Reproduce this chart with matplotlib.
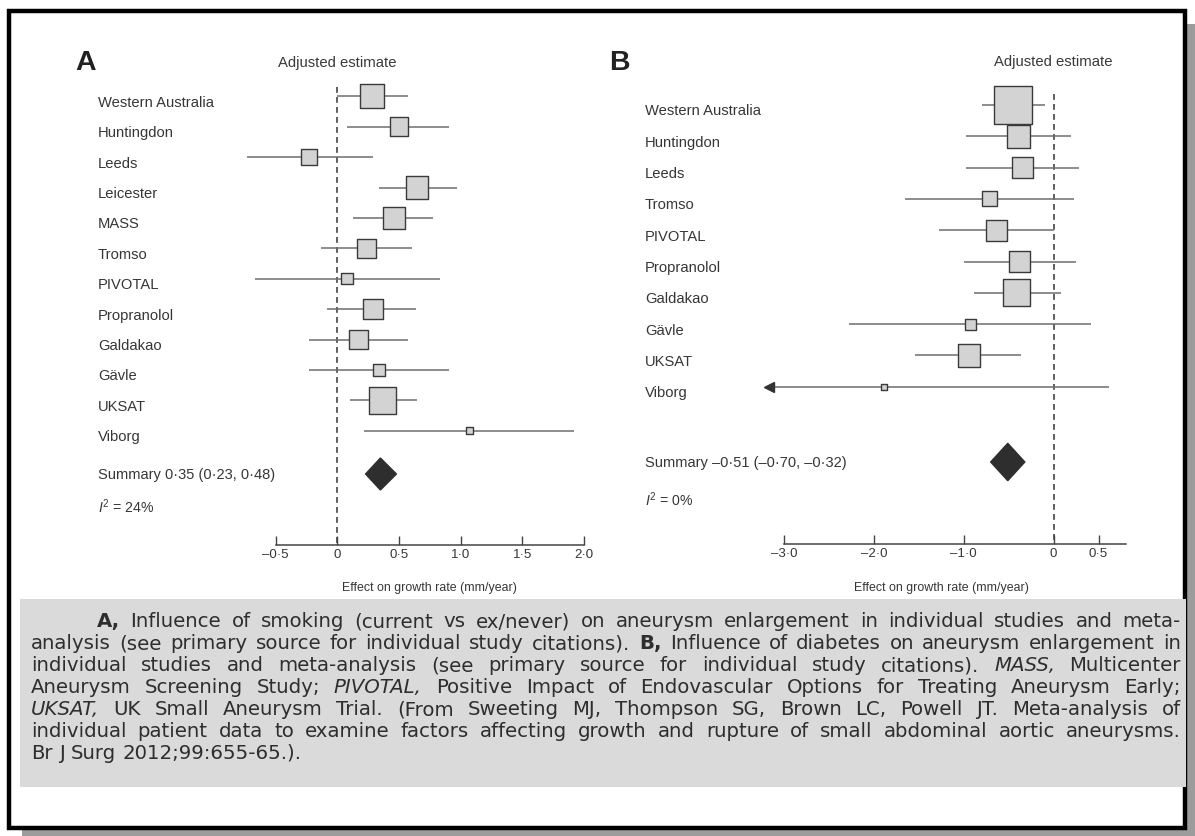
import numpy as np
import matplotlib
matplotlib.use("Agg")
import matplotlib.pyplot as plt
from matplotlib.transforms import Affine2D, blended_transform_factory
from matplotlib.patches import Polygon, Rectangle

W, H = 1195, 837

# ---- data ----
studies_a = ["Western Australia", "Huntingdon", "Leeds", "Leicester", "MASS", "Tromso",
             "PIVOTAL", "Propranolol", "Galdakao", "Gävle", "UKSAT", "Viborg"]
est_a = [0.28, 0.50, -0.23, 0.65, 0.46, 0.24, 0.08, 0.29, 0.17, 0.34, 0.37, 1.07]
lo_a = [0.00, 0.08, -0.73, 0.34, 0.13, -0.13, -0.67, -0.08, -0.23, -0.23, 0.10, 0.22]
hi_a = [0.57, 0.91, 0.29, 0.97, 0.78, 0.61, 0.83, 0.64, 0.57, 0.91, 0.65, 1.92]
weight_a = [13.3, 7.9, 5.7, 11.4, 11.4, 8.4, 2.9, 8.8, 8.4, 3.6, 17.0, 1.3]
summary_a = (0.35, 0.23, 0.48)
i2_a = 24
ticks_a = [-0.5, 0.0, 0.5, 1.0, 1.5, 2.0]

studies_b = ["Western Australia", "Huntingdon", "Leeds", "Tromso", "PIVOTAL", "Propranolol",
             "Galdakao", "Gävle", "UKSAT", "Viborg"]
est_b = [-0.45, -0.39, -0.35, -0.71, -0.64, -0.38, -0.41, -0.92, -0.94, -1.89]
lo_b = [-0.80, -0.97, -0.97, -1.65, -1.28, -1.00, -0.89, -2.28, -1.54, -3.40]
hi_b = [-0.10, 0.19, 0.28, 0.23, 0.01, 0.25, 0.08, 0.42, -0.36, 0.62]
weight_b = [29.0, 10.8, 8.9, 4.6, 8.9, 9.6, 14.7, 2.5, 10.1, 0.8]
summary_b = (-0.51, -0.70, -0.32)
i2_b = 0
ticks_b = [-3.0, -2.0, -1.0, 0.0, 0.5]

caption_lines = [
    "**A,** Influence of smoking (current vs ex/never) on aneurysm enlargement in individual studies and meta-",
    "analysis (see primary source for individual study citations). **B,** Influence of diabetes on aneurysm enlargement in",
    "individual studies and meta-analysis (see primary source for individual study citations). *MASS,* Multicenter",
    "Aneurysm Screening Study; *PIVOTAL,* Positive Impact of Endovascular Options for Treating Aneurysm Early;",
    "*UKSAT,* UK Small Aneurysm Trial. (From Sweeting MJ, Thompson SG, Brown LC, Powell JT. Meta-analysis of",
    "individual patient data to examine factors affecting growth and rupture of small abdominal aortic aneurysms.",
    "Br J Surg 2012;99:655-65.).",
]

# ---- layout (pixels, from top-left) ----
lay_a = dict(letter="A", letter_x=86, left=20, right=600, top=40, axis_y=546,
             zero_x=337.2, unit=123.4, row0=97.3, row_h=30.4, label_x=98,
             summary_y=475, i2_y=507, dash_top=88, title_y=63, box=6.55,
             diamond_h=16, axis_hi=None, clip_lo=None)
lay_b = dict(letter="B", letter_x=619, left=600, right=1186, top=40, axis_y=545,
             zero_x=1053.6, unit=89.9, row0=106, row_h=31.3, label_x=645,
             summary_y=463, i2_y=500, dash_top=95, title_y=62, box=7.0,
             diamond_h=18.7, axis_hi=0.8, clip_lo=-3.17)

TXT = "#363636"
LINE = "#6e6e6e"
FONT = ["Liberation Sans", "DejaVu Sans"]

plt.rcParams["font.family"] = FONT
plt.rcParams["mathtext.fontset"] = "custom"
plt.rcParams["mathtext.rm"] = "Liberation Sans"
plt.rcParams["mathtext.it"] = "Liberation Sans:italic"

fig = plt.figure(figsize=(W / 100, H / 100), dpi=100)
# pixel coords measured from the top-left corner
pxT = Affine2D().scale(1 / W, -1 / H).translate(0, 1) + fig.transFigure


def fmt_tick(v):
    if v == 0:
        return "0"
    s = f"{abs(v):.1f}".replace(".", "·")
    return ("–" + s) if v < 0 else s


def fmt_est(v):
    s = f"{abs(v):.2f}".replace(".", "·")
    return ("–" + s) if v < 0 else s


def draw_panel(names, est, lo, hi, weight, summary, i2, ticks, lay):
    ax = fig.add_axes([lay["left"] / W, 1 - lay["axis_y"] / H,
                       (lay["right"] - lay["left"]) / W, (lay["axis_y"] - lay["top"]) / H])
    ax.patch.set_visible(False)
    ax.set_xlim((lay["left"] - lay["zero_x"]) / lay["unit"], (lay["right"] - lay["zero_x"]) / lay["unit"])
    to_row = lambda py: (py - lay["row0"]) / lay["row_h"]
    y_bot = to_row(lay["axis_y"])
    ax.set_ylim(y_bot, to_row(lay["top"]))

    rows = np.arange(len(names))
    est, lo, hi, weight = map(np.asarray, (est, lo, hi, weight))
    lo_clip = lo if lay["clip_lo"] is None else np.maximum(lo, lay["clip_lo"])

    ax.vlines(0, to_row(lay["dash_top"]), y_bot, colors="#444444", lw=1.2,
              linestyles=(0, (3.5, 2.5)), zorder=1)
    ax.hlines(rows, lo_clip, hi, colors=LINE, lw=1.1, zorder=2)
    off = lo < lo_clip
    ax.plot(lo_clip[off], rows[off], marker="<", ms=7, color="#333333", ls="none", zorder=3)
    ax.scatter(est, rows, s=(lay["box"] * 0.72) ** 2 * weight, marker="s",
               facecolor="#d3d3d3", edgecolor="#3a3a3a", linewidths=1.0, zorder=4)

    s_est, s_lo, s_hi = summary
    sy = to_row(lay["summary_y"])
    dh = lay["diamond_h"] / lay["row_h"]
    ax.add_patch(Polygon([(s_lo, sy), (s_est, sy - dh), (s_hi, sy), (s_est, sy + dh)],
                         closed=True, facecolor="#2e2e2e", edgecolor="#2e2e2e", zorder=4))

    # axis
    for side in ["left", "right", "top"]:
        ax.spines[side].set_visible(False)
    ax.spines["bottom"].set_bounds(ticks[0], lay["axis_hi"] if lay["axis_hi"] else ticks[-1])
    ax.spines["bottom"].set_color("#444444")
    ax.spines["bottom"].set_linewidth(1.1)
    ax.set_yticks([])
    ax.set_xticks(ticks)
    ax.set_xticklabels([fmt_tick(t) for t in ticks])
    ax.tick_params(axis="x", direction="in", length=6.5, width=1.0, color="#444444",
                   pad=2.5, labelsize=9.5, labelcolor=TXT)
    ax.annotate("Effect on growth rate (mm/year)", xy=((ticks[0] + ticks[-1]) / 2, 0),
                xycoords=("data", "axes fraction"), xytext=(0, -(588 - lay["axis_y"]) * 0.72),
                textcoords="offset points", ha="center", va="center", fontsize=8.9, color=TXT)
    ax.text(0, to_row(lay["title_y"]), "Adjusted estimate", ha="center", va="center",
            fontsize=10.7, color="#3a3a3a")

    # study labels
    lab_t = blended_transform_factory(pxT, ax.transData)
    shift = Affine2D().translate(0, -4)
    for r, name in zip(rows, names):
        ax.text(lay["label_x"], r, name, transform=lab_t + shift, ha="left",
                va="center_baseline", fontsize=10.6, color=TXT)
    ax.text(lay["label_x"], sy, "Summary %s (%s, %s)" % tuple(fmt_est(v) for v in summary),
            transform=lab_t, ha="left", va="center", fontsize=10.5, color=TXT)
    ax.text(lay["label_x"], to_row(lay["i2_y"]), r"$I^2$ = %d%%" % i2,
            transform=lab_t, ha="left", va="center", fontsize=10.2, color=TXT)
    fig.text(lay["letter_x"], 63, lay["letter"], transform=pxT, ha="center", va="center",
             fontsize=20.5, fontweight="bold", color="#222222")
    return ax


# frame with drop shadow
fig.patches.append(Rectangle((22, 837), 1173, -812, transform=pxT, facecolor="#9c9c9c",
                             edgecolor="none", zorder=-3))
fig.patches.append(Rectangle((9, 829.5), 1176, -817.8, transform=pxT, facecolor="white",
                             edgecolor="black", lw=3.2, zorder=-2))
fig.patches.append(Rectangle((20, 788), 1166, -188, transform=pxT, facecolor="#dadada",
                             edgecolor="none", zorder=-1))

draw_panel(studies_a, est_a, lo_a, hi_a, weight_a, summary_a, i2_a, ticks_a, lay_a)
draw_panel(studies_b, est_b, lo_b, hi_b, weight_b, summary_b, i2_b, ticks_b, lay_b)

# justified caption
cap_font = ["DejaVu Sans"]
cap_left, cap_right, cap_indent = 31, 1181, 97
base0, line_h = 627.5, 21.9
renderer = fig.canvas.get_renderer()


def make_tokens(line, fs):
    toks = []
    for w in line.split(" "):
        kw = {}
        if w.startswith("**"):
            kw = dict(fontweight="bold")
            w = w.strip("*")
        elif w.startswith("*"):
            kw = dict(fontstyle="italic")
            w = w.strip("*")
        toks.append(fig.text(0, 0, w, transform=pxT, fontsize=fs, family=cap_font,
                             color="#2e2e2e", ha="left", va="baseline", **kw))
    return toks


def text_w(s, fs):
    t = fig.text(0, 0, s, transform=pxT, fontsize=fs, family=cap_font)
    w = t.get_window_extent(renderer).width
    t.remove()
    return w


# size the font so the naturally spaced second line just fills the width
fs0 = 12
probe = make_tokens(caption_lines[1], fs0)
nat = sum(t.get_window_extent(renderer).width for t in probe) + \
    (len(probe) - 1) * (text_w("a a", fs0) - text_w("aa", fs0))
for t in probe:
    t.remove()
cap_fs = fs0 * (cap_right - cap_left) / nat * 0.97
space_w = text_w("a a", cap_fs) - text_w("aa", cap_fs)

for i, line in enumerate(caption_lines):
    toks = make_tokens(line, cap_fs)
    widths = [t.get_window_extent(renderer).width for t in toks]
    x = cap_indent if i == 0 else cap_left
    if i < len(caption_lines) - 1:
        gap = (cap_right - x - sum(widths)) / (len(toks) - 1)
    else:
        gap = space_w
    y = base0 + i * line_h
    for t, w in zip(toks, widths):
        t.set_position((x, y))
        x += w + gap

fig.savefig("out.png", dpi=100)
